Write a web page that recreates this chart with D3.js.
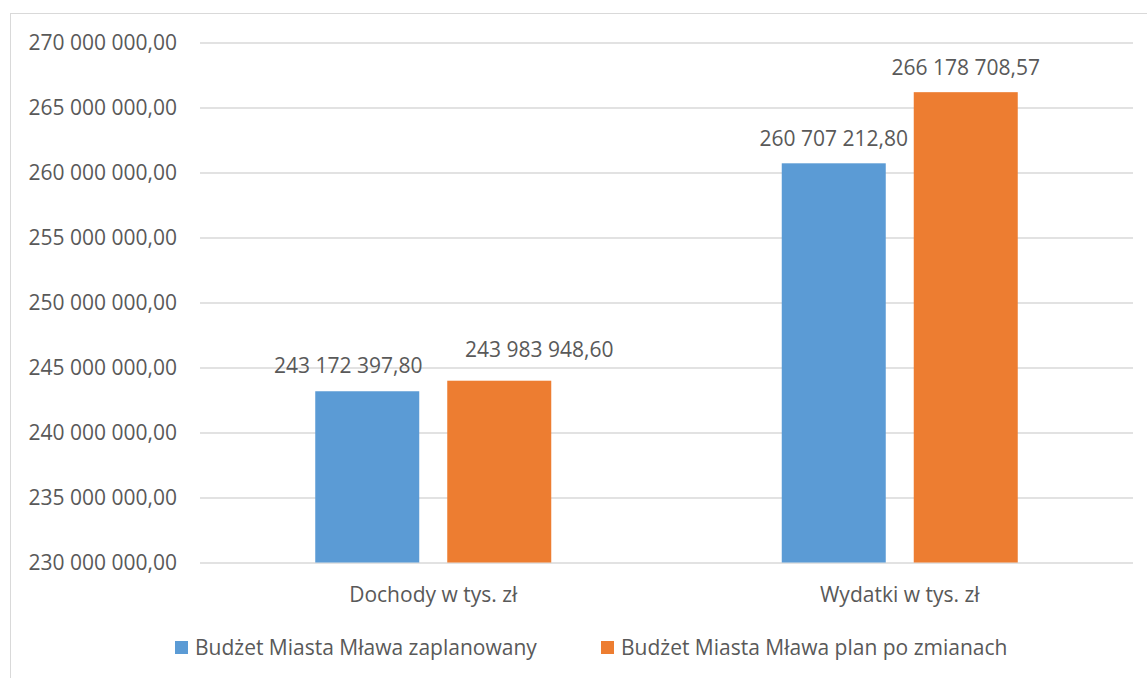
<!DOCTYPE html>
<html>
<head>
<meta charset="utf-8">
<script src="https://cdn.jsdelivr.net/npm/d3@7"></script>
<style>
  body { margin: 0; background: #fff; }
  text { font-family: "Open Sans", "Noto Sans", sans-serif; fill: #595959; }
</style>
</head>
<body>
<div id="chart"></div>
<script>
// data
const categories = ["Dochody w tys. zł", "Wydatki w tys. zł"];
const seriesNames = ["Budżet Miasta Mława zaplanowany", "Budżet Miasta Mława plan po zmianach"];
const planned = [243172397.80, 260707212.80];
const changed = [243983948.60, 266178708.57];
const yTicks = [230000000, 235000000, 240000000, 245000000, 250000000, 255000000, 260000000, 265000000, 270000000];
const colors = ["#5B9BD5", "#ED7D31"];

const W = 1147, H = 678;
const margin = {top: 42.5, left: 200, right: 14, bottom: 115.5};
const width = W - margin.left - margin.right;
const height = H - margin.top - margin.bottom;
const fontSize = "21px";

// label nudges (the two Dochody labels are pushed apart so they don't overlap)
const labelNudge = [[[-19, 0], [40, -6]], [[0, 1], [0, 1]]];

const pl = d3.formatLocale({decimal: ",", thousands: " ", grouping: [3], currency: ["", " zł"]});
const fmt = pl.format(",.2f");

const svg = d3.select("#chart")
  .append("svg")
    .attr("width", W)
    .attr("height", H);

// chart frame
svg.append("rect")
  .attr("x", 10.5).attr("y", 13.5)
  .attr("width", W).attr("height", H)
  .attr("fill", "none")
  .attr("stroke", "#D9D9D9");

const g = svg.append("g")
  .attr("transform", `translate(${margin.left},${margin.top})`);

const y = d3.scaleLinear()
  .domain([230000000, 270000000])
  .range([height, 0]);

const x0 = d3.scaleBand()
  .domain(categories)
  .range([0, width]);

const x1 = d3.scaleBand()
  .domain([0, 1])
  .range([0, 236])
  .paddingInner(28 / 132);

const groupOffset = (x0.bandwidth() - 236) / 2;

// Y axis + gridlines
const yAxis = g.append("g")
  .call(d3.axisLeft(y).tickValues(yTicks).tickFormat(fmt).tickSize(-width).tickPadding(23));
yAxis.select(".domain").remove();
yAxis.selectAll(".tick line").attr("stroke", "#D9D9D9").attr("stroke-width", 1.3);
yAxis.selectAll(".tick text").style("font-size", fontSize).attr("fill", "#595959");

// bars
const rows = categories.map((c, i) => ({cat: c, ci: i, vals: [planned[i], changed[i]]}));

const groups = g.selectAll(".grp")
  .data(rows)
  .join("g")
    .attr("class", "grp")
    .attr("transform", d => `translate(${x0(d.cat) + groupOffset},0)`);

groups.selectAll("rect")
  .data(d => d.vals.map((v, i) => ({v, i, ci: d.ci})))
  .join("rect")
    .attr("x", d => x1(d.i))
    .attr("width", x1.bandwidth())
    .attr("y", d => y(d.v))
    .attr("height", d => height - y(d.v))
    .attr("fill", d => colors[d.i]);

// data labels
groups.selectAll(".lbl")
  .data(d => d.vals.map((v, i) => ({v, i, ci: d.ci})))
  .join("text")
    .attr("class", "lbl")
    .attr("x", d => x1(d.i) + x1.bandwidth() / 2 + labelNudge[d.ci][d.i][0])
    .attr("y", d => y(d.v) - 18 + labelNudge[d.ci][d.i][1])
    .attr("text-anchor", "middle")
    .style("font-size", fontSize)
    .text(d => fmt(d.v));

// category labels
g.selectAll(".cat")
  .data(categories)
  .join("text")
    .attr("class", "cat")
    .attr("x", d => x0(d) + x0.bandwidth() / 2)
    .attr("y", height + 39)
    .attr("text-anchor", "middle")
    .style("font-size", fontSize)
    .text(d => d);

// legend
const legendX = [175, 601];
const legend = svg.selectAll(".legend-item")
  .data(seriesNames)
  .join("g")
    .attr("class", "legend-item")
    .attr("transform", (d, i) => `translate(${legendX[i]}, 641)`);

legend.append("rect")
  .attr("width", 13)
  .attr("height", 13)
  .attr("fill", (d, i) => colors[i]);

legend.append("text")
  .attr("x", 20)
  .attr("y", 14)
  .style("font-size", fontSize)
  .text(d => d);
</script>
</body>
</html>
